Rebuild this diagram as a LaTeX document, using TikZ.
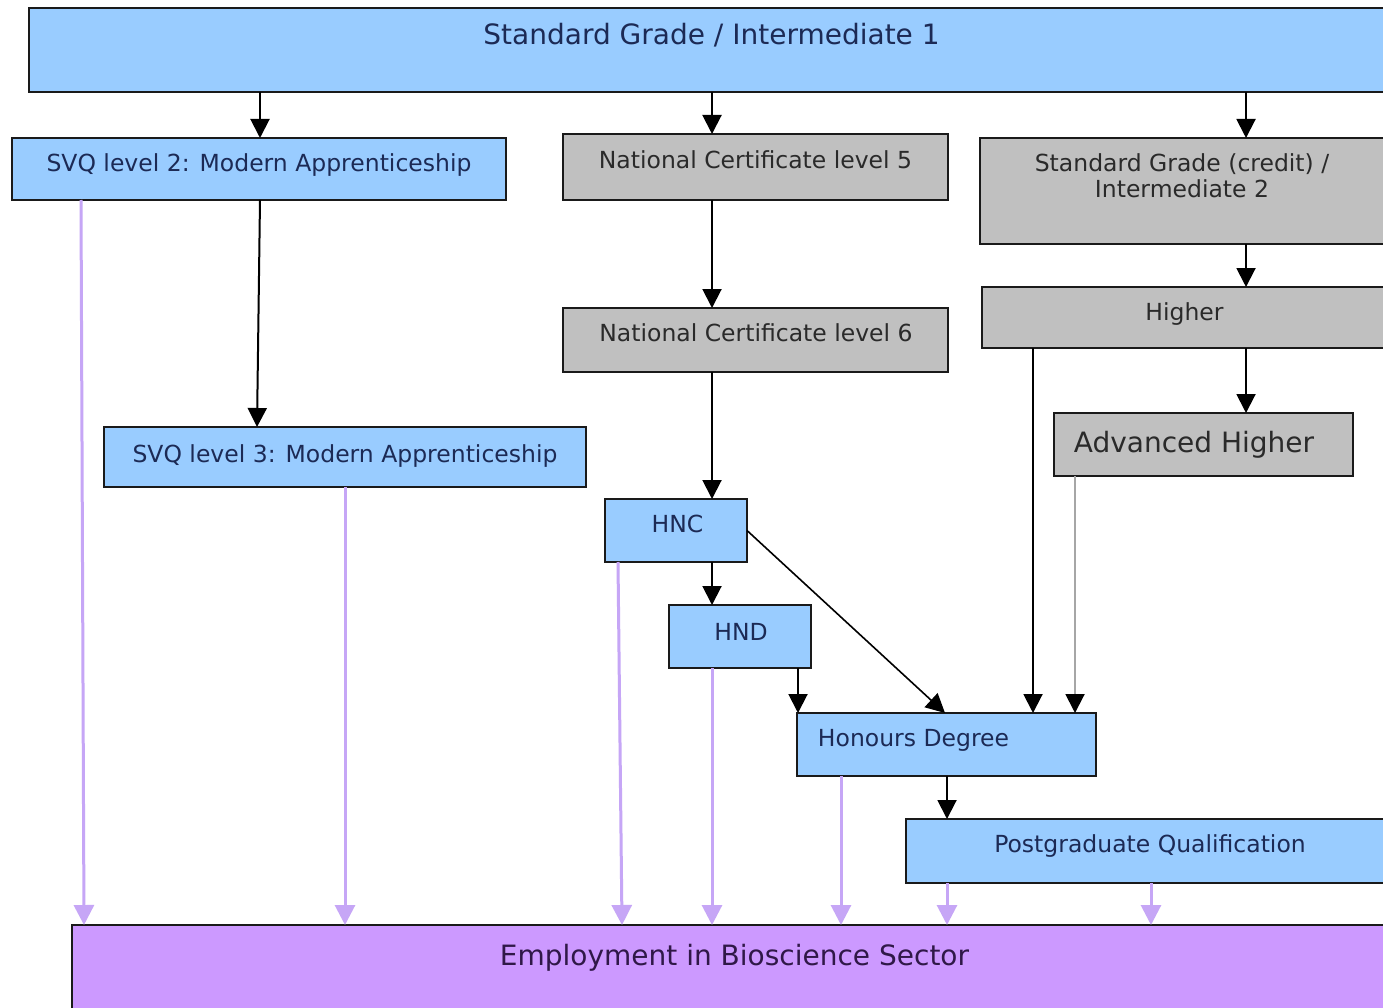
\documentclass[tikz,border=0pt]{standalone}
\usepackage{fontspec}
\setmainfont{DejaVu Sans}
\usetikzlibrary{arrows.meta}
\definecolor{boxblue}{HTML}{99CCFF}
\definecolor{boxgray}{HTML}{C0C0C0}
\definecolor{boxpurple}{HTML}{CC99FF}
\definecolor{arrpurple}{HTML}{C6A6F6}
\definecolor{txtblue}{HTML}{1C2A55}
\definecolor{txtgray}{HTML}{2A2A2A}
\definecolor{txtpurple}{HTML}{301848}
\definecolor{edgecol}{HTML}{1A1A1A}
\begin{document}
\begin{tikzpicture}[x=1pt,y=-1pt,
  box/.style={draw=edgecol, line width=2pt, rectangle, inner sep=0pt, outer sep=0pt, anchor=north west},
  bluebox/.style={box, fill=boxblue},
  graybox/.style={box, fill=boxgray},
  purplebox/.style={box, fill=boxpurple},
  lbl/.style={anchor=base, inner sep=0pt, font=\fontsize{23.5}{28}\selectfont},
  biglbl/.style={anchor=base, inner sep=0pt, font=\fontsize{28}{32}\selectfont},
  blk/.style={draw=black, line width=2pt, -{Triangle[length=19pt,width=19pt]}},
  grayarr/.style={draw=gray!70, line width=2pt, -{Triangle[length=19pt,width=19pt,color=black]}},
  prp/.style={draw=arrpurple, line width=3pt, -{Triangle[length=20pt,width=20pt]}},
]
\useasboundingbox (0,0) rectangle (1383,1008);
\clip (0,0) rectangle (1383,1008);
\fill[white] (0,0) rectangle (1383,1008);

% boxes
\node[bluebox, minimum width=1400pt, minimum height=84pt] (top) at (29,8) {};
\node[bluebox, minimum width=494pt, minimum height=62pt] (svq2) at (12,138) {};
\node[graybox, minimum width=385pt, minimum height=66pt] (nc5) at (563,134) {};
\node[graybox, minimum width=450pt, minimum height=106pt] (sgc) at (980,138) {};
\node[graybox, minimum width=450pt, minimum height=61pt] (higher) at (982,287) {};
\node[graybox, minimum width=299pt, minimum height=63pt] (advh) at (1054,413) {};
\node[graybox, minimum width=385pt, minimum height=64pt] (nc6) at (563,308) {};
\node[bluebox, minimum width=482pt, minimum height=60pt] (svq3) at (104,427) {};
\node[bluebox, minimum width=142pt, minimum height=63pt] (hnc) at (605,499) {};
\node[bluebox, minimum width=142pt, minimum height=63pt] (hnd) at (669,605) {};
\node[bluebox, minimum width=299pt, minimum height=63pt] (hons) at (797,713) {};
\node[bluebox, minimum width=500pt, minimum height=64pt] (pg) at (906,819) {};
\node[purplebox, minimum width=1400pt, minimum height=120pt] (emp) at (72,925) {};

% labels
\node[biglbl, text=txtblue] (ltop) at (711.5,45) {Standard Grade / Intermediate 1};
\node[lbl, text=txtblue] (lsvq2) at (259,172) {SVQ level 2: Modern Apprenticeship};
\node[lbl, text=txtgray] (lnc5) at (755.5,169) {National Certificate level 5};
\node[lbl, text=txtgray] (lsgc1) at (1182,172) {Standard Grade (credit) /};
\node[lbl, text=txtgray] (lsgc2) at (1182,198) {Intermediate 2};
\node[lbl, text=txtgray] (lhigher) at (1184.5,320) {Higher};
\node[biglbl, text=txtgray] (ladvh) at (1194,452) {Advanced Higher};
\node[lbl, text=txtgray] (lnc6) at (756,341) {National Certificate level 6};
\node[lbl, text=txtblue] (lsvq3) at (345,462) {SVQ level 3: Modern Apprenticeship};
\node[lbl, text=txtblue] (lhnc) at (677.5,532) {HNC};
\node[lbl, text=txtblue] (lhnd) at (741,640) {HND};
\node[lbl, text=txtblue] (lhons) at (913.5,746) {Honours Degree};
\node[lbl, text=txtblue] (lpg) at (1150,852) {Postgraduate Qualification};
\node[biglbl, text=txtpurple] (lemp) at (734.5,965) {Employment in Bioscience Sector};

% column coordinates
\coordinate (c81) at (81,0);
\coordinate (c84) at (84,0);
\coordinate (c257) at (257,0);
\coordinate (c260) at (260,0);
\coordinate (c345) at (345,0);
\coordinate (c618) at (618,0);
\coordinate (c622) at (622,0);
\coordinate (c712) at (712,0);
\coordinate (c798) at (798,0);
\coordinate (c841) at (841,0);
\coordinate (c945) at (945,0);
\coordinate (c947) at (947,0);
\coordinate (c1033) at (1033,0);
\coordinate (c1075) at (1075,0);
\coordinate (c1151) at (1151,0);
\coordinate (c1246) at (1246,0);

% black connectors
\draw[blk] (top.south -| c260) -- (svq2.north -| c260);
\draw[blk] (top.south -| c712) -- (nc5.north -| c712);
\draw[blk] (top.south -| c1246) -- (sgc.north -| c1246);
\draw[blk] (sgc.south -| c1246) -- (higher.north -| c1246);
\draw[blk] (higher.south -| c1246) -- (advh.north -| c1246);
\draw[blk] (nc5.south -| c712) -- (nc6.north -| c712);
\draw[blk] (svq2.south -| c260) -- (svq3.north -| c257);
\draw[blk] (nc6.south -| c712) -- (hnc.north -| c712);
\draw[blk] (hnc.south -| c712) -- (hnd.north -| c712);
\draw[blk] (hnd.south -| c798) -- (hons.north -| c798);
\draw[blk, line width=1.6pt] (hnc.east) -- (hons.north -| c945);
\draw[blk] (higher.south -| c1033) -- (hons.north -| c1033);
\draw[grayarr] (advh.south -| c1075) -- (hons.north -| c1075);
\draw[blk] (hons.south -| c947) -- (pg.north -| c947);

% purple connectors
\draw[prp] (svq2.south -| c81) -- (emp.north -| c84);
\draw[prp] (svq3.south -| c345) -- (emp.north -| c345);
\draw[prp] (hnc.south -| c618) -- (emp.north -| c622);
\draw[prp] (hnd.south -| c712) -- (emp.north -| c712);
\draw[prp] (hons.south -| c841) -- (emp.north -| c841);
\draw[prp] (pg.south -| c947) -- (emp.north -| c947);
\draw[prp] (pg.south -| c1151) -- (emp.north -| c1151);
\end{tikzpicture}
\end{document}
